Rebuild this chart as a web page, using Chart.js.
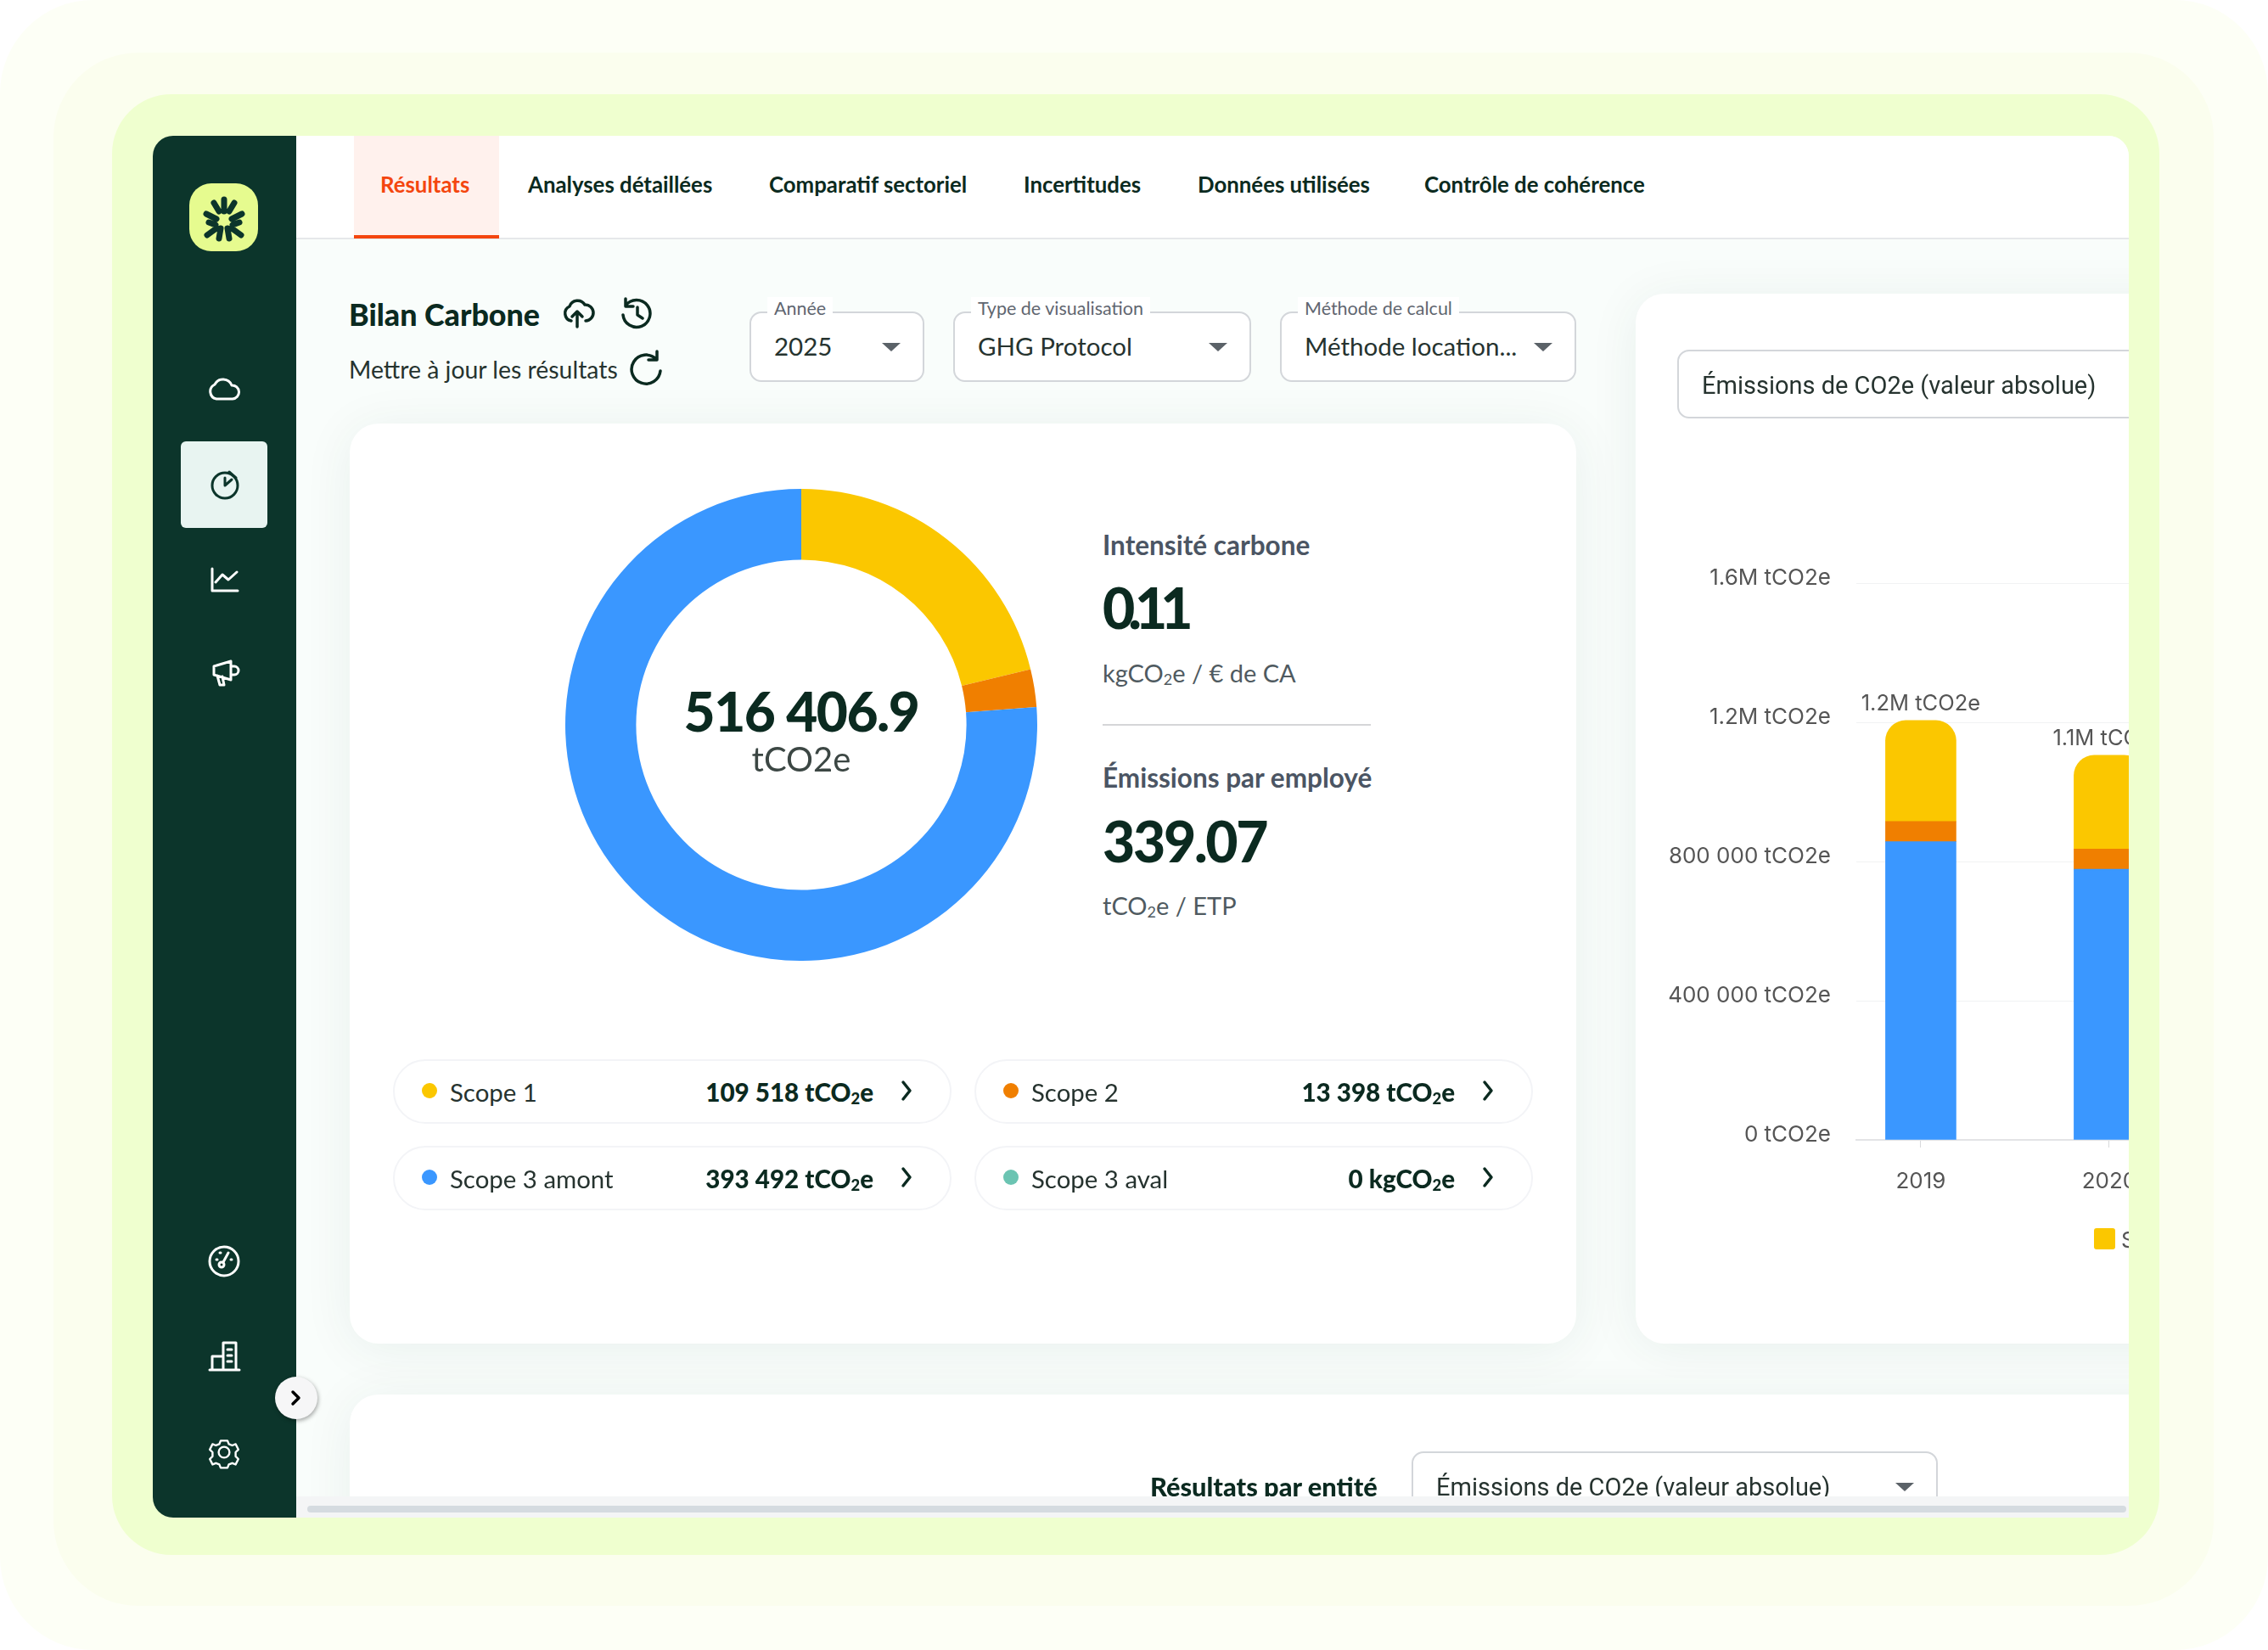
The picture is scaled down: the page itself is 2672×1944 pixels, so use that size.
<!DOCTYPE html>
<html lang="fr">
<head>
<meta charset="utf-8">
<title>Bilan Carbone</title>
<script src="https://cdn.jsdelivr.net/npm/chart.js@4"></script>
<style>
  html, body { margin: 0; padding: 0; background: #fff; }
  body { width: 2672px; height: 1944px; overflow: hidden; position: relative; font-family: Lato, sans-serif; color: #0b2a20; }
  .box { position: absolute; box-sizing: border-box; }
  .t { position: absolute; white-space: nowrap; transform: translateY(-50%); }
  .r { transform: translate(-100%, -50%); }
  .c { transform: translate(-50%, -50%); line-height: 1; }
  sub { font-size: 62%; vertical-align: -0.2em; line-height: 0; }
  #main { position: absolute; left: 0; top: 0; width: 2672px; height: 1944px; background: #f9fdfb; clip-path: inset(160px 164px 156px 348px round 0 24px 0 0); }
  .card { background: #fff; border-radius: 34px; box-shadow: 0 6px 60px rgba(20, 70, 50, .07); }
  .tab { top: 217px; font-size: 25.8px; font-weight: 700; }
  .sel { border: 2px solid #d3d6da; border-radius: 14px; background: #fff; }
  .selLabel { top: 363px; font-size: 21.5px; color: #5f6670; background: #fff; padding: 0 8px; margin-left: -8px; }
  .selValue { top: 407px; font-size: 29.5px; color: #26332f; }
  .roboto { font-family: Roboto, sans-serif; }
  .pill { border: 2px solid #f3f4f7; border-radius: 38px; background: #fff; }
  svg { position: absolute; left: 0; top: 0; }
</style>
</head>
<body>
<div class="box" style="left:0;top:0;width:2672px;height:1944px;border-radius:110px;background:#fdfff6"></div>
<div class="box" style="left:63px;top:62px;width:2545px;height:1830px;border-radius:100px;background:#fbfeee"></div>
<div class="box" style="left:132px;top:111px;width:2412px;height:1721px;border-radius:70px;background:#efffcf"></div>

<div id="main">
  <div class="box" style="left:348px;top:160px;width:2160px;height:122px;background:#fff;border-bottom:2px solid #e6e8ea"></div>
  <div class="box" style="left:417px;top:160px;width:171px;height:121px;background:#fff1ed;border-bottom:4px solid #f4460f"></div>
  <div class="t tab" style="left:448px;color:#f4460f">Résultats</div>
  <div class="t tab" style="left:622px">Analyses détaillées</div>
  <div class="t tab" style="left:906px">Comparatif sectoriel</div>
  <div class="t tab" style="left:1206px">Incertitudes</div>
  <div class="t tab" style="left:1411px">Données utilisées</div>
  <div class="t tab" style="left:1678px">Contrôle de cohérence</div>

  <div class="t" style="left:411px;top:370px;font-size:35.8px;font-weight:900">Bilan Carbone</div>
  <div class="t" style="left:411px;top:435px;font-size:28.4px;color:#26332f">Mettre à jour les résultats</div>

  <div class="box sel" style="left:883px;top:367px;width:206px;height:83px"></div>
  <div class="t selLabel" style="left:912px">Année</div>
  <div class="t selValue" style="left:912px">2025</div>
  <div class="box sel" style="left:1123px;top:367px;width:351px;height:83px"></div>
  <div class="t selLabel" style="left:1152px">Type de visualisation</div>
  <div class="t selValue" style="left:1152px">GHG Protocol</div>
  <div class="box sel" style="left:1508px;top:367px;width:349px;height:83px"></div>
  <div class="t selLabel" style="left:1537px">Méthode de calcul</div>
  <div class="t selValue" style="left:1537px">Méthode location...</div>

  <!-- carte donut -->
  <div class="box card" style="left:412px;top:499px;width:1445px;height:1084px"></div>
  <div class="box" style="left:666px;top:576px;width:556px;height:556px"><canvas id="donutChart" width="556" height="556"></canvas></div>
  <div class="t c" style="left:944px;top:838px;font-size:64px;font-weight:900;letter-spacing:-1.5px">516 406.9</div>
  <div class="t c" style="left:944px;top:894px;font-size:40px;color:#3c4744">tCO2e</div>

  <div class="t" style="left:1299px;top:642px;font-size:31.5px;font-weight:700;color:#4b5563">Intensité carbone</div>
  <div class="t" style="left:1299px;top:715px;font-size:66px;font-weight:900;letter-spacing:-8px">0.11</div>
  <div class="t" style="left:1299px;top:792px;font-size:29px;color:#4f5a60">kgCO<sub>2</sub>e / € de CA</div>
  <div class="box" style="left:1299px;top:853px;width:316px;height:2px;background:#d5d6d8"></div>
  <div class="t" style="left:1299px;top:916px;font-size:31.5px;font-weight:700;color:#4b5563">Émissions par employé</div>
  <div class="t" style="left:1299px;top:990px;font-size:66px;font-weight:900;letter-spacing:-2.3px">339.07</div>
  <div class="t" style="left:1299px;top:1066px;font-size:29px;color:#4f5a60">tCO<sub>2</sub>e / ETP</div>

  <div id="pills"></div>

  <!-- carte barres -->
  <div class="box card" style="left:1927px;top:346px;width:900px;height:1237px"></div>
  <div class="box sel" style="left:1976px;top:412px;width:800px;height:81px"></div>
  <div class="t roboto" style="left:2005px;top:454px;font-size:29px;color:#26332f">Émissions de CO2e (valeur absolue)</div>
  <div class="box" style="left:1927px;top:640px;width:720px;height:780px"><canvas id="barChart" width="720" height="780"></canvas></div>
  <div class="box" style="left:2467px;top:1447px;width:25px;height:25px;border-radius:3px;background:#fbc700"></div>
  <div class="t" style="left:2499px;top:1460px;font-family:Inter,sans-serif;font-size:26px;color:#555">Scope 1</div>

  <!-- carte du bas -->
  <div class="box card" style="left:412px;top:1643px;width:2300px;height:300px"></div>
  <div class="t" style="left:1355px;top:1751px;font-size:30.8px;font-weight:900">Résultats par entité</div>
  <div class="box sel" style="left:1663px;top:1710px;width:620px;height:100px"></div>
  <div class="t roboto" style="left:1692px;top:1752px;font-size:29px;color:#26332f">Émissions de CO2e (valeur absolue)</div>

  <div class="box" style="left:348px;top:1763px;width:2160px;height:25px;background:#f4f5f6"></div>
  <div class="box" style="left:362px;top:1774px;width:2143px;height:8px;border-radius:4px;background:#d5dbe0"></div>

  <svg width="2672" height="1944" fill="none" stroke="#0b2a20" stroke-width="3.5" stroke-linecap="round" stroke-linejoin="round">
    <!-- upload -->
    <path d="M673 378a9 9 0 0 1-2-17 10 10 0 0 1 18-2 8 8 0 0 1 1 19M680 385v-18M674 373l6-6 6 6"/>
    <!-- history -->
    <path d="M737 360a16 16 0 1 1-3 11M737 352v9h9M751 362v9l6 4"/>
    <!-- refresh -->
    <path d="M773 423a17 17 0 1 0 5 14M774 414v10h-10"/>
    <!-- carets -->
    <g fill="#5b6268" stroke="none">
      <path d="M1039 404h22l-11 10zM1424 404h22l-11 10zM1807 404h22l-11 10zM2233 1747h22l-11 10z"/>
    </g>
  </svg>
</div>

<!-- barre laterale -->
<div class="box" style="left:180px;top:160px;width:169px;height:1628px;border-radius:24px 0 0 24px;background:#0c352b"></div>
<div class="box" style="left:223px;top:216px;width:81px;height:80px;border-radius:26px;background:#e6fb8f"></div>
<div class="box" style="left:213px;top:520px;width:102px;height:102px;border-radius:6px;background:#e8f4f1"></div>
<svg width="2672" height="1944" fill="none" stroke="#fff" stroke-width="3" stroke-linecap="round" stroke-linejoin="round">
  <!-- logo -->
  <g stroke="#0c352b" stroke-width="7">
    <path d="M264 235v14M252 239l6 10M276 239l-6 10M243 252l12 6M285 252l-12 6M244 277l11-8M284 277l-11-8M258 281l2-12M270 281l-2-12M246 262l8 3M282 262l-8 3"/>
  </g>
  <!-- nuage -->
  <path d="M255 470a9 9 0 0 1-2-17 11 11 0 0 1 20 1 8 8 0 0 1 1 16z"/>
  <!-- camembert -->
  <g stroke="#0c352b"><circle cx="265" cy="572" r="15"/><path d="M265 572v-9M265 572l8-7M270 556l8 7"/></g>
  <!-- courbes -->
  <path d="M250 670v26h30M254 686l8-9 7 6 10-9"/>
  <!-- megaphone -->
  <path d="M252 785l20-6v22l-20-6zM272 785h4a5 5 0 0 1 0 10h-4M256 796l3 11h5l-2-10"/>
  <!-- jauge -->
  <circle cx="264" cy="1486" r="17"/><circle cx="261" cy="1490" r="3"/><path d="M263 1487l6-11M255 1484h1M259 1476h1M272 1484h1"/>
  <!-- immeuble -->
  <path d="M247 1614h35M250 1614v-16h13v16M263 1614v-32h15v32M268 1590h5M268 1597h5M268 1604h5"/>
  <!-- engrenage -->
  <g transform="translate(264 1711) scale(.8) translate(-264 -1711)"><circle cx="264" cy="1711" r="8"/><path d="M259 1694h10l2 5 5 2 5-2 4 8-4 4v6l4 4-4 8-5-2-5 2-2 5h-10l-2-5-5-2-5 2-4-8 4-4v-6l-4-4 4-8 5 2 5-2z"/></g>
</svg>
<div class="box" style="left:324px;top:1622px;width:50px;height:50px;border-radius:50%;background:#f6f6f7;box-shadow:1px 2px 5px rgba(0,0,0,.35)"></div>
<svg width="2672" height="1944" fill="none" stroke="#000" stroke-width="3.5" stroke-linecap="round" stroke-linejoin="round">
  <path d="M345 1640l7 7-7 7"/>
</svg>

<script>
// répartition par scope (donut + pastilles)
const scopeLabels = ["Scope 1", "Scope 2", "Scope 3 amont", "Scope 3 aval"];
const scopeValues = [109518, 13398, 393492, 0];
const scopeValueText = ["109 518 tCO<sub>2</sub>e", "13 398 tCO<sub>2</sub>e", "393 492 tCO<sub>2</sub>e", "0 kgCO<sub>2</sub>e"];
const scopeColors = ["#fbc700", "#f07f00", "#3a97ff", "#6bc4b2"];

// historique (barres empilees)
const years = [2019, 2020];
const scope3Hist = [857000, 778000];
const scope2Hist = [58000, 58000];
const scope1Hist = [290000, 269000];
const totalLabels = ["1.2M tCO2e", "1.1M tCO2e"];
const yTicks = [0, 400000, 800000, 1200000, 1600000];
const yTickLabels = ["0 tCO2e", "400 000 tCO2e", "800 000 tCO2e", "1.2M tCO2e", "1.6M tCO2e"];

// pastilles
const pillRows = [[1248, 463], [1248, 1148], [1350, 463], [1350, 1148]];
let pillsHtml = "";
scopeLabels.forEach((label, i) => {
  const top = pillRows[i][0];
  const left = pillRows[i][1];
  const mid = top + 37;
  pillsHtml += `<div class="box pill" style="left:${left}px;top:${top}px;width:658px;height:76px"></div>
    <div class="box" style="left:${left + 34}px;top:${mid - 9}px;width:18px;height:18px;border-radius:50%;background:${scopeColors[i]}"></div>
    <div class="t" style="left:${left + 67}px;top:${mid + 1}px;font-size:29.4px;color:#26332f">${label}</div>
    <div class="t r" style="left:${left + 566}px;top:${mid + 1}px;font-size:29.6px;font-weight:900">${scopeValueText[i]}</div>
    <svg width="2672" height="1944" fill="none" stroke="#0b2a20" stroke-width="3.5" stroke-linecap="round" stroke-linejoin="round"><path d="M${left + 601} ${mid - 10}l8 10-8 10"/></svg>`;
});
document.getElementById("pills").innerHTML = pillsHtml;

new Chart(document.getElementById("donutChart").getContext("2d"), {
  type: "doughnut",
  data: {
    labels: scopeLabels,
    datasets: [{ data: scopeValues, backgroundColor: scopeColors, borderWidth: 0, hoverOffset: 0 }],
  },
  options: {
    responsive: false,
    animation: false,
    cutout: "70%",
    plugins: { legend: { display: false }, tooltip: { enabled: false } },
  },
});

// total au dessus de chaque barre
const totalLabelPlugin = {
  id: "totalLabelPlugin",
  afterDatasetsDraw(chart) {
    const ctx = chart.ctx;
    ctx.save();
    ctx.font = "25.5px Inter";
    ctx.fillStyle = "#555";
    ctx.textAlign = "center";
    ctx.textBaseline = "middle";
    years.forEach((year, i) => {
      const total = scope3Hist[i] + scope2Hist[i] + scope1Hist[i];
      ctx.fillText(totalLabels[i], chart.scales.x.getPixelForValue(year), chart.scales.y.getPixelForValue(total) - 20);
    });
    ctx.restore();
  },
};

function histDataset(label, values, color, radius) {
  return {
    label: label,
    data: years.map((year, i) => ({ x: year, y: values[i] })),
    backgroundColor: color,
    barThickness: 83,
    borderSkipped: false,
    borderRadius: { topLeft: radius, topRight: radius, bottomLeft: 0, bottomRight: 0 },
  };
}

new Chart(document.getElementById("barChart").getContext("2d"), {
  type: "bar",
  data: {
    datasets: [
      histDataset("Scope 3 amont", scope3Hist, scopeColors[2], 0),
      histDataset("Scope 2", scope2Hist, scopeColors[1], 0),
      histDataset("Scope 1", scope1Hist, scopeColors[0], 24),
    ],
  },
  plugins: [totalLabelPlugin],
  options: {
    responsive: false,
    animation: false,
    layout: { padding: { top: 47, right: 0, bottom: 0, left: 0 } },
    plugins: { legend: { display: false }, tooltip: { enabled: false } },
    scales: {
      x: {
        type: "linear",
        offset: false,
        stacked: true,
        min: 2018.658,
        max: 2020.73,
        afterFit: (scale) => { scale.height = 77; },
        border: { color: "#e3e4e6", width: 2 },
        grid: { offset: false, drawOnChartArea: false, color: "#d8d9db", tickLength: 9 },
        ticks: {
          stepSize: 1,
          includeBounds: false,
          padding: 25,
          color: "#555",
          font: { family: "Inter", size: 26 },
          callback: (value) => String(value),
        },
      },
      y: {
        stacked: true,
        min: 0,
        max: 1600000,
        afterFit: (scale) => { scale.width = 260; },
        border: { display: false },
        grid: { color: "#f1f2f3", drawTicks: false },
        ticks: {
          stepSize: 400000,
          padding: 30,
          labelOffset: -6,
          color: "#555",
          font: { family: "Inter", size: 26 },
          callback: (value) => yTickLabels[yTicks.indexOf(value)],
        },
      },
    },
  },
});
</script>
</body>
</html>
